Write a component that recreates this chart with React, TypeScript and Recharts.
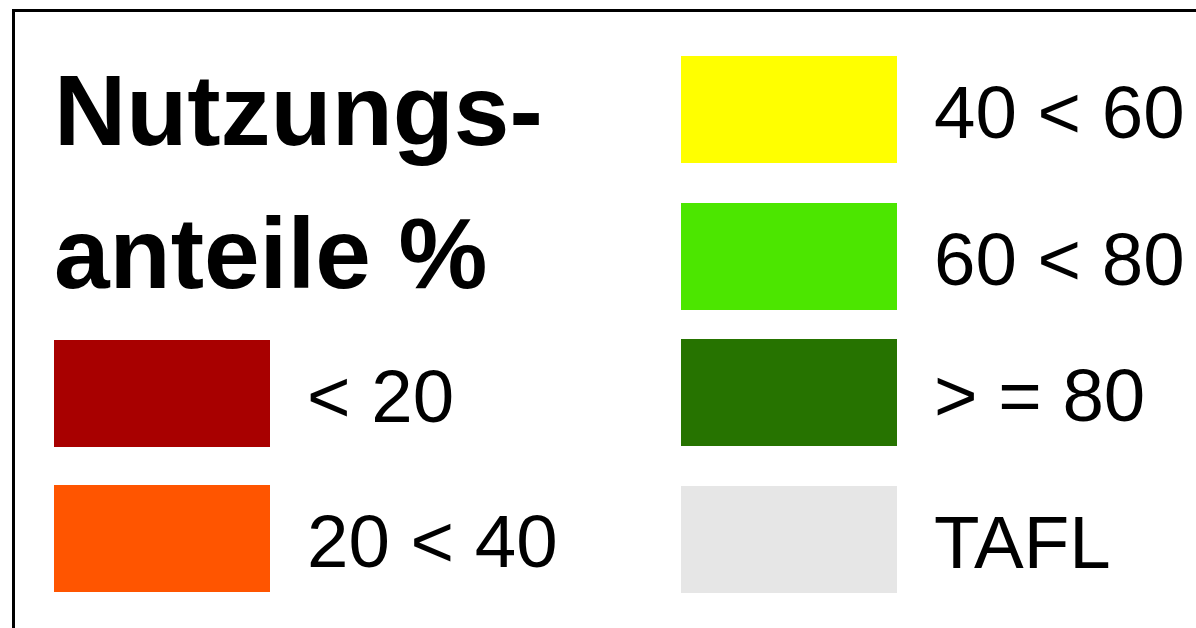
import { BarChart, Bar, Legend } from 'recharts';

const CLASS_LABELS = ['< 20', '20 < 40', '40 < 60', '60 < 80', '> = 80', 'TAFL'];
const CLASS_COLORS = ['#A80000', '#FF5500', '#FFFF00', '#4CE600', '#267300', '#E6E6E6'];
const TITLE_LINES = ['Nutzungs-', 'anteile %'];

// legend slots (layout only): [x, y] of each swatch, in class order
const SLOTS = [
  [54, 340],
  [54, 485],
  [681, 56],
  [681, 203],
  [681, 339],
  [681, 486],
];

const W = 1196;
const H = 628;
const FONT = '"Liberation Sans", Arial, sans-serif';

function LegendPanel(props: any) {
  const payload =
    props.payload && props.payload.length
      ? props.payload
      : CLASS_LABELS.map((l, i) => ({ value: l, color: CLASS_COLORS[i] }));

  return (
    <svg width={W} height={H} style={{ display: 'block' }}>
      {TITLE_LINES.map((t, i) => (
        <text
          key={t}
          x={54}
          y={145 + i * 143}
          fontFamily={FONT}
          fontWeight="bold"
          fontSize={100}
          fill="#000"
        >
          {t}
        </text>
      ))}
      {payload.map((entry: any, i: number) => {
        const idx = CLASS_LABELS.indexOf(entry.value);
        const [x, y] = SLOTS[idx >= 0 ? idx : i] || [0, 0];
        return (
          <g key={`item-${i}`}>
            <rect x={x} y={y} width={216} height={107} fill={entry.color} />
            <text x={x + 253} y={y + 82} fontFamily={FONT} fontSize={74.5} fill="#000">
              {entry.value}
            </text>
          </g>
        );
      })}
    </svg>
  );
}

export default function App() {
  const data = [{ name: 'legend', ...Object.fromEntries(CLASS_LABELS.map((l) => [l, 0])) }];

  return (
    <div
      style={{
        position: 'absolute',
        left: 0,
        top: 0,
        width: W,
        height: H,
        overflow: 'hidden',
        background: '#fff',
      }}
    >
      <div
        style={{
          position: 'absolute',
          left: 12,
          top: 9,
          width: W + 100,
          height: H + 100,
          borderLeft: '3px solid #000',
          borderTop: '3px solid #000',
        }}
      />
      <BarChart width={W} height={H} data={data} margin={{ top: 0, right: 0, bottom: 0, left: 0 }}>
        {CLASS_LABELS.map((l, i) => (
          <Bar key={l} dataKey={l} name={l} fill={CLASS_COLORS[i]} isAnimationActive={false} />
        ))}
        <Legend
          content={<LegendPanel />}
          wrapperStyle={{ position: 'absolute', left: 0, top: 0, width: W, height: H }}
        />
      </BarChart>
    </div>
  );
}
